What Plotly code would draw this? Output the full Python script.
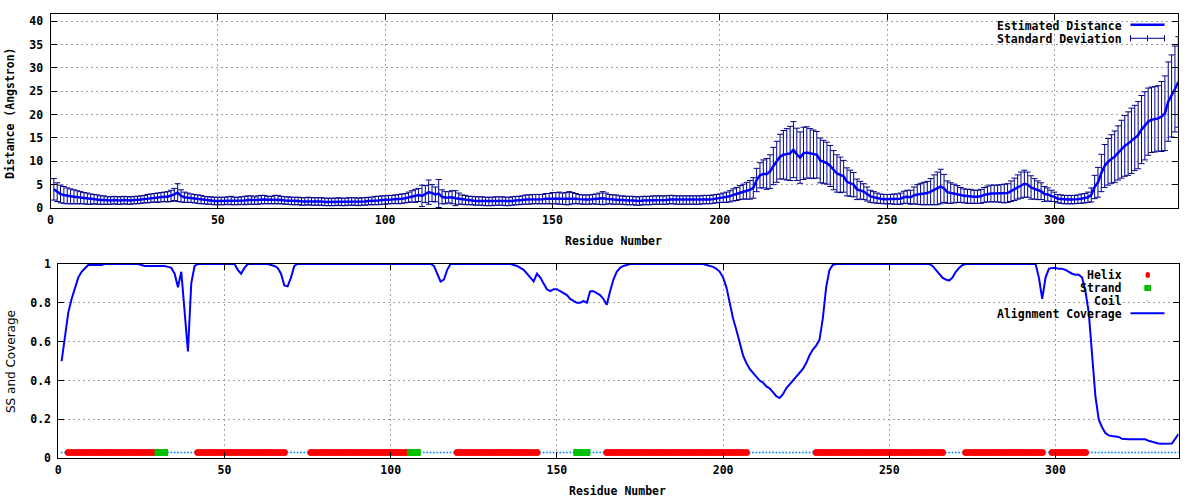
import plotly.graph_objects as go

# ---------------- data ----------------
residues = list(range(1, 338))

est_distance = [
    4.0, 3.4, 3.0, 2.8, 2.6, 2.5, 2.4, 2.3, 2.2, 2.1,
    2.0, 1.9, 1.9, 1.8, 1.7, 1.7, 1.6, 1.6, 1.7, 1.6,
    1.6, 1.7, 1.6, 1.6, 1.7, 1.7, 1.8, 1.9, 2.0, 2.1,
    2.2, 2.2, 2.3, 2.4, 2.4, 2.6, 2.9, 3.3, 2.6, 2.3,
    2.2, 2.1, 2.0, 1.9, 1.8, 1.7, 1.6, 1.6, 1.5, 1.5,
    1.5, 1.5, 1.6, 1.6, 1.5, 1.5, 1.6, 1.6, 1.7, 1.7,
    1.6, 1.7, 1.8, 1.8, 1.7, 1.7, 1.8, 1.8, 1.7, 1.6,
    1.6, 1.5, 1.5, 1.5, 1.4, 1.4, 1.5, 1.4, 1.4, 1.4,
    1.4, 1.3, 1.3, 1.3, 1.3, 1.4, 1.3, 1.3, 1.4, 1.4,
    1.4, 1.3, 1.4, 1.4, 1.5, 1.5, 1.6, 1.6, 1.7, 1.7,
    1.8, 1.8, 1.9, 1.9, 2.0, 2.1, 2.3, 2.5, 2.6, 2.8,
    2.6, 3.0, 3.4, 3.2, 2.9, 3.1, 2.4, 2.2, 2.3, 2.3,
    2.1, 2.0, 1.8, 1.7, 1.6, 1.6, 1.5, 1.5, 1.5, 1.4,
    1.4, 1.4, 1.5, 1.5, 1.5, 1.4, 1.4, 1.5, 1.6, 1.6,
    1.7, 1.8, 1.8, 1.9, 1.9, 1.9, 1.9, 2.0, 2.0, 2.1,
    2.1, 2.1, 2.0, 2.0, 2.1, 2.1, 2.0, 1.9, 1.8, 1.8,
    1.8, 1.9, 1.9, 2.0, 2.1, 2.0, 1.9, 1.8, 1.8, 1.7,
    1.7, 1.6, 1.6, 1.6, 1.5, 1.5, 1.6, 1.6, 1.6, 1.7,
    1.7, 1.7, 1.7, 1.7, 1.8, 1.8, 1.7, 1.7, 1.7, 1.7,
    1.7, 1.7, 1.7, 1.7, 1.8, 1.8, 1.8, 1.9, 2.0, 2.1,
    2.2, 2.3, 2.5, 2.8, 3.0, 3.3, 3.5, 3.7, 3.9, 4.3,
    6.0, 7.0, 7.3, 7.3, 7.8, 9.0, 9.9, 11.0, 11.4, 11.5,
    11.7, 12.5, 11.5, 10.8, 11.7, 11.9, 11.7, 11.5, 11.4, 10.2,
    9.9, 9.6, 9.0, 8.1, 7.4, 7.1, 6.8, 5.6, 5.3, 5.0,
    4.0, 3.8, 3.5, 3.0, 2.5, 2.3, 2.1, 2.0, 1.9, 1.9,
    1.9, 1.9, 1.9, 2.0, 2.3, 2.4, 2.3, 2.7, 2.9, 3.0,
    3.1, 3.2, 3.5, 3.9, 4.2, 4.6, 4.2, 3.4, 3.2, 3.1,
    3.0, 2.8, 2.6, 2.5, 2.5, 2.4, 2.4, 2.5, 2.8, 3.0,
    3.1, 3.1, 3.1, 3.1, 3.1, 3.2, 3.6, 4.0, 4.5, 4.9,
    5.2, 5.0, 4.4, 4.1, 3.8, 3.6, 3.0, 2.9, 2.6, 2.4,
    2.0, 1.9, 1.8, 1.8, 1.8, 1.8, 1.9, 2.0, 2.1, 2.3,
    2.8, 4.5, 5.5, 7.5, 9.0, 9.9, 10.5, 11.0, 11.8, 12.6,
    13.3, 13.8, 14.4, 15.0, 15.6, 16.8, 17.6, 18.5, 18.9, 19.0,
    19.2, 19.6, 20.3, 22.8, 24.0, 25.5, 27.0,
]

std_dev = [
    2.3, 2.0, 1.9, 1.8, 1.7, 1.6, 1.5, 1.4, 1.3, 1.2,
    1.2, 1.1, 1.0, 1.0, 0.9, 0.9, 0.8, 0.8, 0.8, 0.8,
    0.8, 0.8, 0.8, 0.8, 0.8, 0.8, 0.8, 0.8, 0.9, 0.9,
    0.9, 1.0, 1.0, 1.0, 1.1, 1.2, 1.3, 1.9, 1.3, 1.1,
    1.0, 0.9, 0.9, 0.9, 0.9, 0.8, 0.8, 0.8, 0.8, 0.8,
    0.8, 0.8, 0.8, 0.9, 0.8, 0.8, 0.8, 0.9, 0.9, 0.9,
    0.8, 0.9, 0.9, 0.9, 0.8, 0.8, 0.9, 0.9, 0.8, 0.8,
    0.8, 0.8, 0.8, 0.8, 0.8, 0.8, 0.8, 0.8, 0.8, 0.8,
    0.8, 0.8, 0.8, 0.8, 0.8, 0.8, 0.8, 0.8, 0.8, 0.8,
    0.8, 0.8, 0.8, 0.8, 0.8, 0.8, 0.9, 0.9, 0.9, 0.9,
    0.9, 0.9, 0.9, 1.0, 1.0, 1.0, 1.1, 1.2, 1.4, 1.4,
    2.3, 1.8, 2.6, 1.8, 1.6, 3.0, 1.5, 1.3, 1.2, 1.4,
    1.6, 1.2, 1.0, 1.0, 0.9, 0.9, 0.9, 0.9, 0.9, 0.9,
    0.9, 0.9, 0.9, 0.9, 0.9, 0.9, 0.9, 0.9, 0.9, 0.9,
    0.9, 1.0, 1.0, 1.0, 1.0, 1.0, 1.0, 1.1, 1.1, 1.2,
    1.2, 1.3, 1.2, 1.3, 1.4, 1.2, 1.1, 1.0, 1.0, 1.0,
    1.0, 1.0, 1.1, 1.2, 1.4, 1.2, 1.0, 1.0, 1.0, 0.9,
    0.9, 0.9, 0.9, 0.9, 0.9, 0.9, 0.9, 0.9, 0.9, 0.9,
    0.9, 0.9, 0.9, 0.9, 0.9, 0.9, 0.9, 0.9, 0.9, 0.9,
    0.9, 0.9, 0.9, 0.9, 0.9, 0.9, 0.9, 0.9, 0.9, 0.9,
    1.0, 1.1, 1.2, 1.3, 1.4, 1.5, 1.6, 1.8, 2.0, 2.2,
    2.5, 2.7, 3.0, 3.3, 3.6, 4.0, 4.4, 4.8, 5.2, 5.5,
    5.8, 6.0, 5.6, 5.5, 5.6, 5.5, 5.3, 5.2, 5.0, 4.8,
    4.6, 4.5, 4.4, 4.2, 4.0, 3.8, 3.4, 3.0, 2.8, 2.6,
    2.2, 1.9, 1.7, 1.5, 1.3, 1.2, 1.1, 1.0, 1.0, 1.0,
    1.0, 1.1, 1.1, 1.2, 1.3, 1.4, 1.5, 1.8, 2.1, 2.3,
    2.4, 2.5, 2.8, 3.2, 3.5, 3.7, 3.0, 2.4, 2.2, 2.0,
    1.8, 1.6, 1.5, 1.5, 1.5, 1.4, 1.4, 1.5, 1.6, 1.7,
    1.8, 1.8, 1.8, 1.9, 2.0, 2.0, 2.2, 2.4, 2.6, 2.8,
    2.9, 2.7, 2.5, 2.2, 2.0, 1.8, 1.6, 1.4, 1.2, 1.0,
    0.9, 0.9, 0.9, 0.9, 0.9, 0.9, 0.9, 1.0, 1.0, 1.1,
    1.5, 2.5, 3.2, 4.0, 4.6, 5.0, 5.2, 5.5, 5.8, 6.2,
    6.5, 6.8, 7.0, 7.0, 7.2, 7.3, 7.3, 7.2, 7.0, 7.0,
    7.0, 7.5, 8.0, 8.5, 8.8, 9.2, 9.7,
]

coverage = [
    0.50, 0.64, 0.75, 0.82, 0.88, 0.93, 0.96, 0.98, 0.995, 0.995,
    0.995, 0.995, 0.995, 1.0, 1.0, 1.0, 1.0, 1.0, 1.0, 1.0,
    1.0, 1.0, 1.0, 1.0, 0.995, 0.99, 0.99, 0.99, 0.99, 0.99,
    0.99, 0.99, 0.985, 0.98, 0.95, 0.88, 0.96, 0.75, 0.55, 0.90,
    0.99, 1.0, 1.0, 1.0, 1.0, 1.0, 1.0, 1.0, 1.0, 1.0,
    1.0, 1.0, 1.0, 0.97, 0.95, 0.98, 1.0, 1.0, 1.0, 1.0,
    1.0, 1.0, 1.0, 0.995, 0.99, 0.98, 0.95, 0.89, 0.885, 0.93,
    0.99, 1.0, 1.0, 1.0, 1.0, 1.0, 1.0, 1.0, 1.0, 1.0,
    1.0, 1.0, 1.0, 1.0, 1.0, 1.0, 1.0, 1.0, 1.0, 1.0,
    1.0, 1.0, 1.0, 1.0, 1.0, 1.0, 1.0, 1.0, 1.0, 1.0,
    1.0, 1.0, 1.0, 1.0, 1.0, 1.0, 1.0, 1.0, 1.0, 1.0,
    1.0, 1.0, 0.99, 0.95, 0.91, 0.92, 0.97, 1.0, 1.0, 1.0,
    1.0, 1.0, 1.0, 1.0, 1.0, 1.0, 1.0, 1.0, 1.0, 1.0,
    1.0, 1.0, 1.0, 1.0, 1.0, 1.0, 0.995, 0.99, 0.98, 0.97,
    0.95, 0.93, 0.91, 0.95, 0.93, 0.90, 0.87, 0.86, 0.87, 0.87,
    0.86, 0.85, 0.84, 0.82, 0.81, 0.80, 0.80, 0.81, 0.80, 0.86,
    0.86, 0.85, 0.84, 0.82, 0.79, 0.86, 0.92, 0.96, 0.98, 0.99,
    0.995, 1.0, 1.0, 1.0, 1.0, 1.0, 1.0, 1.0, 1.0, 1.0,
    1.0, 1.0, 1.0, 1.0, 1.0, 1.0, 1.0, 1.0, 1.0, 1.0,
    1.0, 1.0, 1.0, 1.0, 0.995, 0.99, 0.985, 0.975, 0.96, 0.93,
    0.88, 0.80, 0.72, 0.66, 0.60, 0.53, 0.49, 0.46, 0.44, 0.42,
    0.40, 0.39, 0.37, 0.36, 0.34, 0.32, 0.31, 0.33, 0.36, 0.38,
    0.40, 0.42, 0.44, 0.46, 0.49, 0.53, 0.56, 0.58, 0.61, 0.72,
    0.88, 0.97, 0.995, 1.0, 1.0, 1.0, 1.0, 1.0, 1.0, 1.0,
    1.0, 1.0, 1.0, 1.0, 1.0, 1.0, 1.0, 1.0, 1.0, 1.0,
    1.0, 1.0, 1.0, 1.0, 1.0, 1.0, 1.0, 1.0, 1.0, 1.0,
    1.0, 1.0, 0.99, 0.97, 0.95, 0.93, 0.92, 0.915, 0.93, 0.96,
    0.98, 0.995, 1.0, 1.0, 1.0, 1.0, 1.0, 1.0, 1.0, 1.0,
    1.0, 1.0, 1.0, 1.0, 1.0, 1.0, 1.0, 1.0, 1.0, 1.0,
    1.0, 1.0, 1.0, 1.0, 0.93, 0.82, 0.93, 0.975, 0.98, 0.98,
    0.975, 0.975, 0.97, 0.96, 0.95, 0.945, 0.945, 0.93, 0.86, 0.75,
    0.55, 0.32, 0.20, 0.16, 0.13, 0.118, 0.115, 0.113, 0.11, 0.10,
    0.098, 0.098, 0.098, 0.098, 0.098, 0.098, 0.098, 0.09, 0.085, 0.084,
    0.076, 0.075, 0.075, 0.075, 0.076, 0.10, 0.125,
]

# secondary structure segments: (type, first residue, last residue)
ss_segments = [
    ("C", 1, 2), ("H", 3, 29), ("E", 30, 32), ("C", 33, 41),
    ("H", 42, 68), ("C", 69, 75), ("H", 76, 105), ("E", 106, 108),
    ("C", 109, 119), ("H", 120, 144), ("C", 145, 155), ("E", 156, 159),
    ("C", 160, 164), ("H", 165, 207), ("C", 208, 227), ("H", 228, 266),
    ("C", 267, 272), ("H", 273, 296), ("C", 297, 298), ("H", 299, 309),
    ("C", 310, 337),
]
ss_level = 0.03

x_ticks = [0, 50, 100, 150, 200, 250, 300]
y1_ticks = [0, 5, 10, 15, 20, 25, 30, 35, 40]
y2_ticks = [0, 0.2, 0.4, 0.6, 0.8, 1]
y2_labels = ["0", "0.2", "0.4", "0.6", "0.8", "1"]

# ---------------- helpers ----------------
W, H = 1200, 500
FONT = "DejaVu Sans Mono"


def px(x):
    return x / W


def py(y):
    return 1 - y / H


ss_of = {}
for kind, a, b in ss_segments:
    for r in range(a, b + 1):
        ss_of[r] = kind

helix_x = [r for r in residues if ss_of.get(r) == "H"]
strand_x = [r for r in residues if ss_of.get(r) == "E"]
coil_x = [r for r in residues if ss_of.get(r) == "C"]

fig = go.Figure()

# top panel: error bars then mean line
fig.add_trace(go.Scatter(
    x=residues, y=est_distance, mode="markers",
    marker=dict(size=1, color="rgba(0,0,0,0)"),
    error_y=dict(type="data", array=std_dev, visible=True,
                 color="#00008b", thickness=1, width=3),
    xaxis="x", yaxis="y", showlegend=False, hoverinfo="skip"))
fig.add_trace(go.Scatter(
    x=residues, y=est_distance, mode="lines",
    line=dict(color="#0000ff", width=2.5),
    xaxis="x", yaxis="y", showlegend=False))

# bottom panel
fig.add_trace(go.Scatter(
    x=coil_x, y=[ss_level] * len(coil_x), mode="markers",
    marker=dict(symbol="circle", size=2, color="#1e90ff"),
    xaxis="x2", yaxis="y2", showlegend=False))
fig.add_trace(go.Scatter(
    x=helix_x, y=[ss_level] * len(helix_x), mode="markers",
    marker=dict(symbol="circle", size=7, color="#ff0000"),
    xaxis="x2", yaxis="y2", showlegend=False))
fig.add_trace(go.Scatter(
    x=strand_x, y=[ss_level] * len(strand_x), mode="markers",
    marker=dict(symbol="square", size=7, color="#00c000"),
    xaxis="x2", yaxis="y2", showlegend=False))
fig.add_trace(go.Scatter(
    x=residues, y=coverage, mode="lines",
    line=dict(color="#0000ff", width=2),
    xaxis="x2", yaxis="y2", showlegend=False))

tickfont = dict(family=FONT, size=11.5, color="black", weight="bold")
common = dict(
    showline=True, linecolor="black", linewidth=1, mirror="ticks",
    ticks="inside", ticklen=6, tickcolor="black", tickwidth=1,
    showgrid=True, gridcolor="#a0a0a0", gridwidth=1, griddash="2px,3px",
    zeroline=False, tickfont=tickfont, automargin=False,
)

fig.update_layout(
    width=W, height=H,
    margin=dict(l=0, r=0, t=0, b=0, pad=0, autoexpand=False),
    paper_bgcolor="white", plot_bgcolor="white",
    showlegend=False,
    xaxis=dict(domain=[px(50.5), px(1178.3)], range=[0, 337], anchor="y",
               tickvals=x_ticks, ticklabelstandoff=1, **common),
    yaxis=dict(domain=[py(208), py(14.3)], range=[0, 41.5], anchor="x",
               tickvals=y1_ticks, ticklabelstandoff=4, **common),
    xaxis2=dict(domain=[px(58.3), px(1178.5)], range=[0, 337], anchor="y2",
                tickvals=x_ticks, ticklabelstandoff=1, **common),
    yaxis2=dict(domain=[py(458.3), py(264)], range=[0, 1], anchor="x2",
                tickvals=y2_ticks, ticktext=y2_labels, ticklabelstandoff=4, **common),
)

bold = dict(family=FONT, size=11.5, color="black", weight="bold")
ann = []
# axis titles
ann.append(dict(text="Residue Number", x=px(613), y=py(241), xref="paper", yref="paper",
                showarrow=False, font=bold, xanchor="center", yanchor="middle"))
ann.append(dict(text="Residue Number", x=px(617), y=py(491), xref="paper", yref="paper",
                showarrow=False, font=bold, xanchor="center", yanchor="middle"))
ann.append(dict(text="Distance (Angstron)", x=px(10), y=py(113), xref="paper", yref="paper",
                showarrow=False, font=bold, textangle=-90, xanchor="center", yanchor="middle"))
ann.append(dict(text="SS and Coverage", x=px(11), y=py(362), xref="paper", yref="paper",
                showarrow=False, font=dict(family="DejaVu Sans", size=12, color="black"),
                textangle=-90, xanchor="center", yanchor="middle"))
# legend texts
legend_rows = [
    ("Estimated Distance", 25.7), ("Standard Deviation", 38.7),
    ("Helix", 275), ("Strand", 288.3), ("Coil", 300.7), ("Alignment Coverage", 314.3),
]
for txt, yy in legend_rows:
    ann.append(dict(text=txt, x=px(1123.5), y=py(yy), xref="paper", yref="paper",
                    showarrow=False, font=bold, xanchor="right", yanchor="middle"))

shapes = []
# opaque key boxes (over grid, under data)
shapes.append(dict(type="rect", xref="paper", yref="paper", layer="between",
                   x0=px(994), x1=px(1176), y0=py(44), y1=py(15),
                   fillcolor="white", line=dict(width=0)))
shapes.append(dict(type="rect", xref="paper", yref="paper", layer="between",
                   x0=px(994), x1=px(1176), y0=py(321), y1=py(265),
                   fillcolor="white", line=dict(width=0)))
# key samples
shapes.append(dict(type="line", xref="paper", yref="paper", layer="above",
                   x0=px(1130.5), x1=px(1164.5), y0=py(24.7), y1=py(24.7),
                   line=dict(color="#0000ff", width=2.5)))
shapes.append(dict(type="line", xref="paper", yref="paper", layer="above",
                   x0=px(1130.5), x1=px(1164.5), y0=py(38.3), y1=py(38.3),
                   line=dict(color="#00008b", width=1)))
for xx in (1130.5, 1147.5, 1164.5):
    shapes.append(dict(type="line", xref="paper", yref="paper", layer="above",
                       x0=px(xx), x1=px(xx), y0=py(35.3), y1=py(41.3),
                       line=dict(color="#00008b", width=1)))
shapes.append(dict(type="circle", xref="paper", yref="paper", layer="above",
                   x0=px(1145.5), x1=px(1150), y0=py(278), y1=py(272),
                   fillcolor="#ff0000", line=dict(width=0)))
shapes.append(dict(type="rect", xref="paper", yref="paper", layer="above",
                   x0=px(1144.3), x1=px(1151), y0=py(291), y1=py(285),
                   fillcolor="#00c000", line=dict(width=0)))
shapes.append(dict(type="rect", xref="paper", yref="paper", layer="above",
                   x0=px(1146.8), x1=px(1147.8), y0=py(301.2), y1=py(300.2),
                   fillcolor="#1e90ff", line=dict(width=0)))
shapes.append(dict(type="line", xref="paper", yref="paper", layer="above",
                   x0=px(1130.5), x1=px(1164.5), y0=py(313.3), y1=py(313.3),
                   line=dict(color="#0000ff", width=2)))

fig.update_layout(annotations=ann, shapes=shapes)

# remove the default 8px page margin so the 1200x500 figure fills the window
fig.write_html("out.html",
               config={"displayModeBar": False},
               post_script="document.body.style.margin='0';"
                           "document.body.style.padding='0';"
                           "document.body.style.overflow='hidden';")
